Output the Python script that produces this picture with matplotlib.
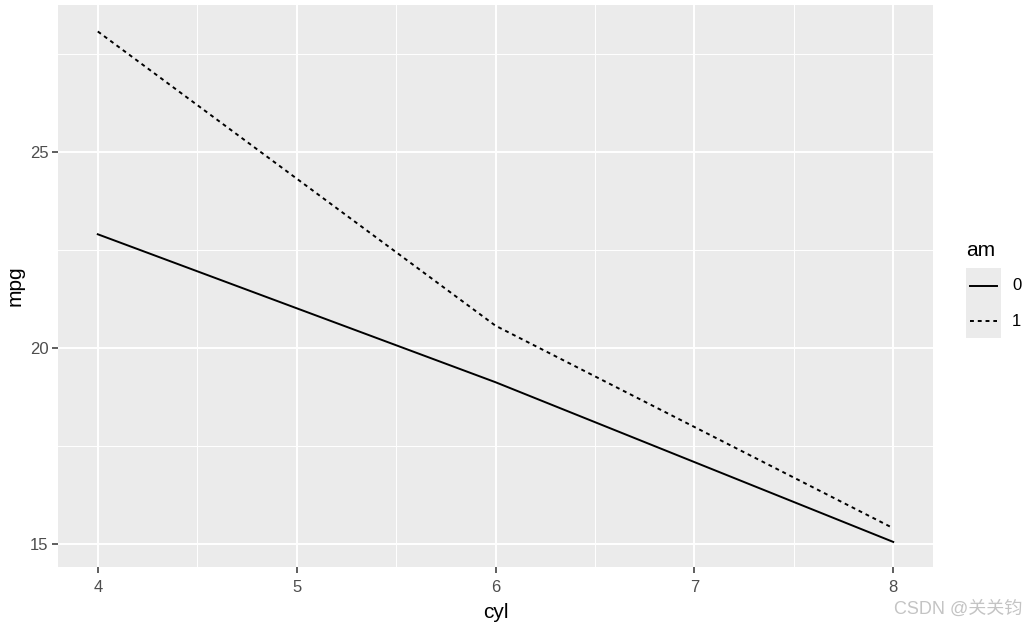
import matplotlib
matplotlib.use("Agg")
import matplotlib.pyplot as plt
from matplotlib.ticker import MultipleLocator

plt.rcParams['font.family'] = ['Liberation Sans', 'Noto Sans CJK SC', 'DejaVu Sans']

# mean mpg by cyl and am (mtcars)
cyl = [4, 6, 8]
mpg_am0 = [22.900, 19.125, 15.050]
mpg_am1 = [28.075, 20.567, 15.400]
am_levels = ["0", "1"]
x_ticks = [4, 5, 6, 7, 8]
y_ticks = [15, 20, 25]

W, H = 1028, 627
LW = 1.4
DASH = (0, (2.0, 2.0))

fig = plt.figure(figsize=(W / 100, H / 100), dpi=100)
ax = fig.add_axes([58 / W, 1 - 567 / H, (933 - 58) / W, (567 - 5) / H])
ax.set_facecolor("#EBEBEB")

ax.plot(cyl, mpg_am0, color="black", lw=LW)
ax.plot(cyl, mpg_am1, color="black", lw=LW, linestyle=DASH)

ax.set_xlim(3.8, 8.2)
ax.set_ylim(14.41, 28.75)
ax.set_xticks(x_ticks)
ax.set_yticks(y_ticks)
ax.xaxis.set_minor_locator(MultipleLocator(0.5))
ax.yaxis.set_minor_locator(MultipleLocator(2.5))
ax.grid(which="major", color="white", lw=1.4)
ax.grid(which="minor", color="white", lw=0.7)
ax.set_axisbelow(True)
for s in ax.spines.values():
    s.set_visible(False)
ax.tick_params(which="major", length=4, width=1.1, color="#333333",
               labelcolor="#4D4D4D", labelsize=12, pad=3)
ax.tick_params(axis="x", which="major", pad=5)
ax.tick_params(which="minor", length=0)
ax.set_xlabel("cyl", fontsize=15, labelpad=6)
ax.set_ylabel("mpg", fontsize=15, labelpad=4)

# legend drawn as ggplot-style keys
fig.text(966 / W, 1 - 250 / H, "am", fontsize=15, va="center", ha="left")
styles = ["-", DASH]
for i, (lab, ls) in enumerate(zip(am_levels, styles)):
    top = 268 + i * 35
    kax = fig.add_axes([966 / W, 1 - (top + 35) / H, 35 / W, 35 / H])
    kax.set_facecolor("#EBEBEB")
    kax.set_xlim(0, 35)
    kax.set_ylim(0, 1)
    kax.plot([4, 31], [0.5, 0.5], color="black", lw=LW, linestyle=ls)
    kax.set_xticks([])
    kax.set_yticks([])
    for s in kax.spines.values():
        s.set_visible(False)
    fig.text(1012 / W, 1 - (top + 18) / H, lab, fontsize=12,
             va="center", ha="left")

fig.text(1022 / W, 1 - 609 / H, "CSDN @关关钧", fontsize=13, color="#C4C4C4",
         ha="right", va="center")

fig.savefig("out.png", dpi=100)
